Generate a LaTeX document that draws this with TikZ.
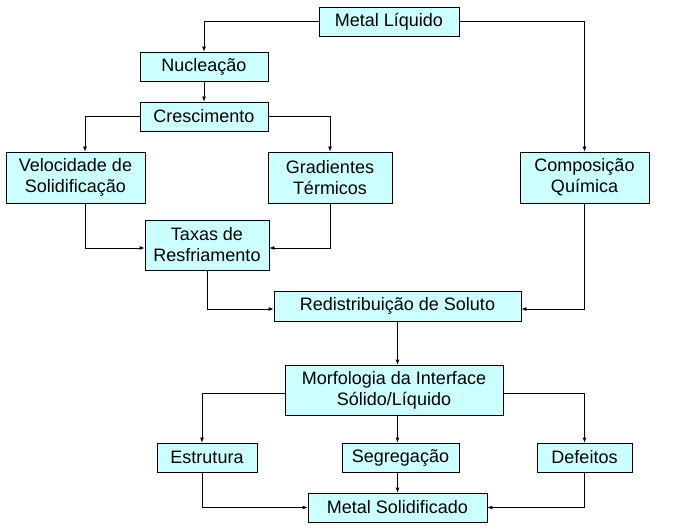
\documentclass[tikz,border=0pt]{standalone}
\usepackage{fontspec}
\setmainfont{Liberation Sans}
\usetikzlibrary{positioning,arrows.meta}
\definecolor{azulclaro}{HTML}{CCFFFF}
\tikzset{caixa/.style={draw,fill=azulclaro,line width=0.8pt,inner sep=0pt,align=center,font=\fontsize{18}{21}\selectfont},
  seta/.style={-{Latex[length=5pt,width=4pt]},line width=0.8pt}}

\begin{document}
\begin{tikzpicture}[x=1pt,y=-1pt]
	\useasboundingbox (0,0) rectangle (699,532);
	% caixas
	\node[caixa,minimum width=140pt,minimum height=29pt] (ml) at (389,21.5) {Metal Líquido};
	\node[caixa,minimum width=128pt,minimum height=29pt] (nuc) at (204,66.5) {Nucleação};
	\node[caixa,minimum width=128pt,minimum height=29pt] (cres) at (204,116.5) {Crescimento};
	\node[caixa,minimum width=139pt,minimum height=51pt] (vel) at (75.5,177.5) {Velocidade de\\Solidificação};
	\node[caixa,minimum width=124pt,minimum height=51pt] (grad) at (330,177.5) {Gradientes\\Térmicos};
	\node[caixa,minimum width=129pt,minimum height=51pt] (comp) at (584.5,177.5) {Composição\\Química};
	\node[caixa,minimum width=124pt,minimum height=50pt] (tax) at (207,245) {Taxas de\\Resfriamento};
	\node[caixa,minimum width=247pt,minimum height=30pt] (red) at (397.5,306) {Redistribuição de Soluto};
	\node[caixa,minimum width=218pt,minimum height=50pt] (mor) at (394,390) {Morfologia da Interface\\Sólido/Líquido};
	\node[caixa,minimum width=100pt,minimum height=29pt] (est) at (207,457.5) {Estrutura};
	\node[caixa,minimum width=117pt,minimum height=29pt] (seg) at (400.5,457.5) {Segregação};
	\node[caixa,minimum width=95pt,minimum height=29pt] (def) at (584.5,457.5) {Defeitos};
	\node[caixa,minimum width=179pt,minimum height=29pt] (ms) at (397.5,507.5) {Metal Solidificado};

	% ligacoes
	\draw[seta] (ml.west) -| (nuc.north);
	\draw[seta] (ml.east) -| (comp.north);
	\draw[seta] (nuc) -- (cres);
	\draw[seta] (cres.west) -| ([xshift=9.5pt]vel.north);
	\draw[seta] (cres.east) -| (grad.north);
	\draw[seta] ([xshift=9.5pt]vel.south) |- ([yshift=-3pt]tax.west);
	\draw[seta] (grad.south) |- ([yshift=-3pt]tax.east);
	\draw[seta] (tax.south) |- ([yshift=-3pt]red.west);
	\draw[seta] (comp.south) |- ([yshift=-3pt]red.east);
	\draw[seta] (red.south) -- (red.south |- mor.north);
	\draw[seta] ([yshift=-3pt]mor.west) -| ([xshift=-5pt]est.north);
	\draw[seta] (mor.south -| red.south) -- (seg.north -| red.south);
	\draw[seta] ([yshift=-3pt]mor.east) -| (def.north);
	\draw[seta] ([xshift=-5pt]est.south) |- (ms.west);
	\draw[seta] (seg.south -| ms.north) -- (ms.north);
	\draw[seta] (def.south) |- (ms.east);
\end{tikzpicture}
\end{document}
